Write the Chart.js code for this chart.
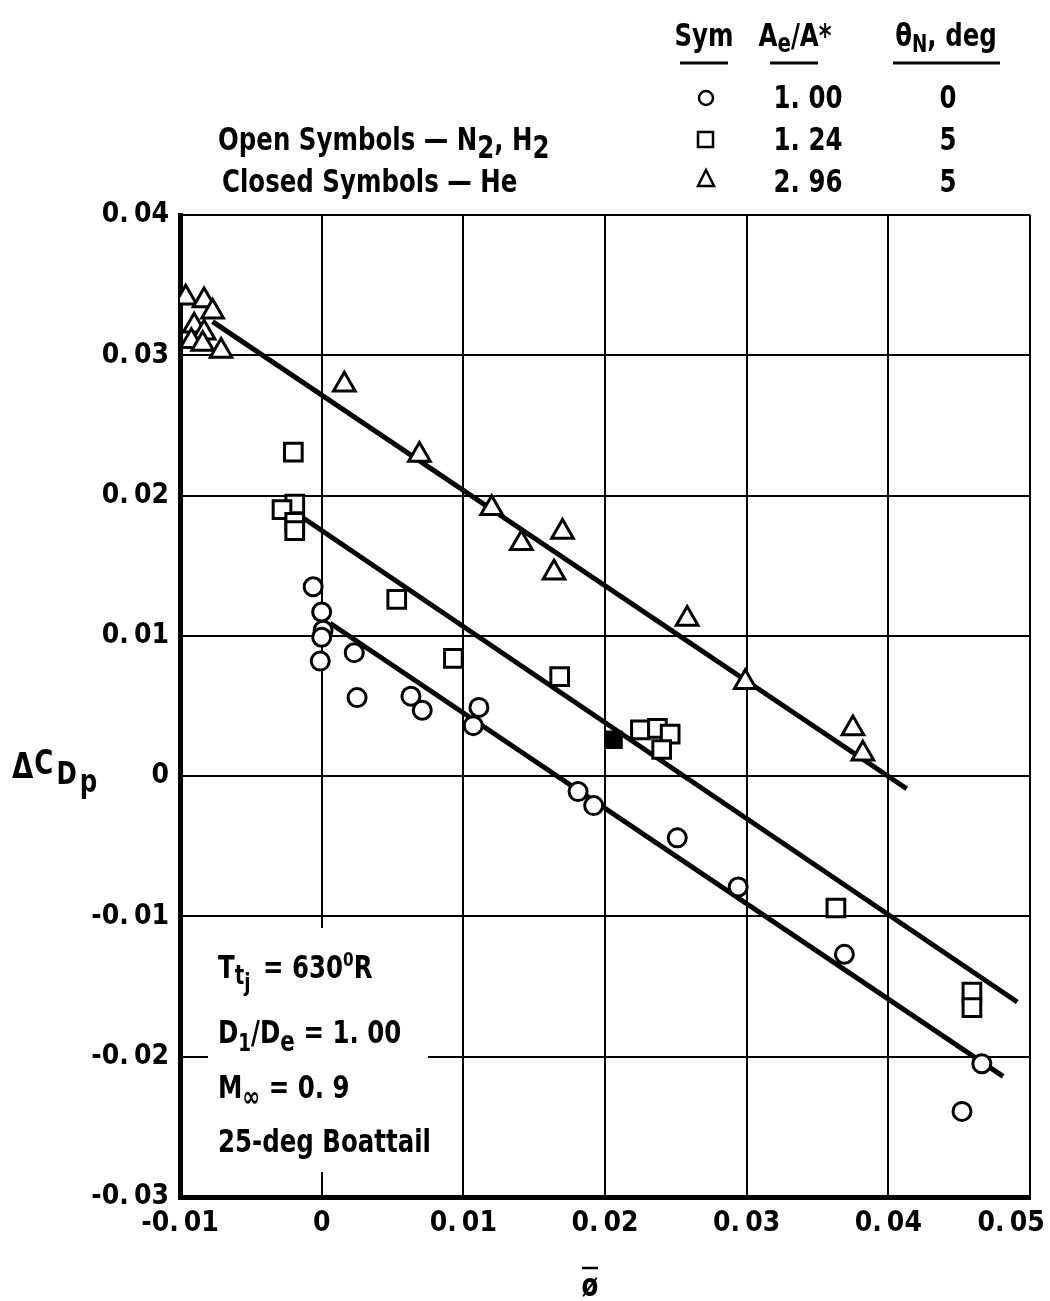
<!DOCTYPE html>
<html>
<head>
<meta charset="utf-8">
<script src="https://cdn.jsdelivr.net/npm/chart.js@4.4.1/dist/chart.umd.min.js"></script>
<style>
  html, body { margin: 0; padding: 0; background: #fff; }
  #wrap { width: 1050px; height: 1301px; position: relative; }
</style>
</head>
<body>
<div id="wrap"><canvas id="chart" width="1050" height="1301"></canvas></div>
<script>
// 数据 - 从图中读取
const circleX = [-0.0006, 0.0000, 0.0001, 0.0000, -0.0001, 0.0023, 0.0025, 0.0063, 0.0071, 0.0111, 0.0107, 0.0181, 0.0192, 0.0251, 0.0294, 0.0369, 0.0466, 0.0452];
const circleY = [0.0135, 0.0117, 0.0104, 0.0099, 0.0082, 0.0088, 0.0056, 0.0057, 0.0047, 0.0049, 0.0036, -0.0011, -0.0021, -0.0044, -0.0079, -0.0127, -0.0205, -0.0239];

const squareX = [-0.0020, -0.0019, -0.0028, -0.0019, -0.0019, 0.0053, 0.0093, 0.0168, 0.0225, 0.0237, 0.0246, 0.0240, 0.0363, 0.0459, 0.0459];
const squareY = [0.0231, 0.0194, 0.0190, 0.0181, 0.0175, 0.0126, 0.0084, 0.0071, 0.0033, 0.0034, 0.0030, 0.0019, -0.0094, -0.0154, -0.0165];

// 实心方块 (He)
const squareHeX = [0.0206];
const squareHeY = [0.0026];

const triangleX = [-0.0096, -0.0083, -0.0077, -0.0090, -0.0083, -0.0092, -0.0084, -0.0071, 0.0016, 0.0069, 0.0120, 0.0170, 0.0141, 0.0164, 0.0258, 0.0299, 0.0375, 0.0382];
const triangleY = [0.0341, 0.0339, 0.0331, 0.0321, 0.0316, 0.0310, 0.0308, 0.0303, 0.0279, 0.0229, 0.0191, 0.0174, 0.0166, 0.0145, 0.0112, 0.0067, 0.0034, 0.0016];

// 拟合直线端点
const triLineX = [-0.0077, 0.0413];
const triLineY = [0.0324, -0.0009];
const sqLineX = [-0.0013, 0.0491];
const sqLineY = [0.0184, -0.0161];
const cirLineX = [0.0006, 0.0481];
const cirLineY = [0.0109, -0.0214];

// 刻度
const xTicks = [-0.01, 0, 0.01, 0.02, 0.03, 0.04, 0.05];
const yTicks = [-0.03, -0.02, -0.01, 0, 0.01, 0.02, 0.03, 0.04];

// 图例表
const legendRatio = ['1. 00', '1. 24', '2. 96'];
const legendTheta = ['0', '5', '5'];

const FONT = '"DejaVu Sans Condensed", "DejaVu Sans", sans-serif';
const FS = 32;     // 自绘文字字号
const SX = 0.85;   // 自绘文字横向压缩

function toPoints(xs, ys) {
    return xs.map((x, i) => ({ x: x, y: ys[i] }));
}

function fmtTick(v) {
    const r = Math.round(v * 100);
    if (r === 0) return '0';
    return (r < 0 ? '-' : '') + '0.\u2009' + '0' + Math.abs(r);
}

const markerBase = {
    showLine: false,
    borderColor: '#000',
    backgroundColor: '#fff',
    borderWidth: 3
};

function lineSet(xs, ys) {
    return {
        type: 'line',
        data: toPoints(xs, ys),
        showLine: true,
        borderColor: '#000',
        borderWidth: 5,
        pointRadius: 0,
        fill: false,
        order: 2
    };
}

// 画带下标的文字 (横向压缩)
function drawRuns(ctx, x, y, runs) {
    runs.forEach(r => {
        ctx.font = 'bold ' + (r.size || FS) + 'px ' + FONT;
        ctx.save();
        ctx.translate(x, y + (r.dy || 0));
        ctx.scale(SX, 1);
        ctx.fillText(r.t, 0, 0);
        ctx.restore();
        x += ctx.measureText(r.t).width * SX + (r.gap || 0);
    });
    return x;
}

function runsWidth(ctx, runs) {
    let w = 0;
    runs.forEach(r => {
        ctx.font = 'bold ' + (r.size || FS) + 'px ' + FONT;
        w += ctx.measureText(r.t).width * SX + (r.gap || 0);
    });
    return w;
}

function drawCentered(ctx, cx, y, runs) {
    drawRuns(ctx, cx - runsWidth(ctx, runs) / 2, y, runs);
}

const decorPlugin = {
    id: 'decor',
    beforeDatasetsDraw(chart) {
        // 注释框遮住网格线
        const ctx = chart.ctx;
        ctx.save();
        ctx.fillStyle = '#fff';
        ctx.fillRect(208, 928, 220, 244);
        ctx.restore();
    },
    afterDraw(chart) {
        const ctx = chart.ctx;
        ctx.save();
        ctx.fillStyle = '#000';
        ctx.strokeStyle = '#000';
        ctx.textBaseline = 'alphabetic';
        ctx.textAlign = 'left';

        // 左上说明
        drawRuns(ctx, 218, 150, [
            { t: 'Open Symbols \u2014 N' }, { t: '2', dy: 8 }, { t: ', H' }, { t: '2', dy: 8 }
        ]);
        drawRuns(ctx, 222, 192, [{ t: 'Closed Symbols \u2014 He' }]);

        // 图例表头
        const heads = [
            { cx: 704, runs: [{ t: 'Sym' }], ul: [680, 728] },
            { cx: 795, runs: [{ t: 'A' }, { t: 'e', size: 26, dy: 6 }, { t: '/A*' }], ul: [770, 818] },
            { cx: 946, runs: [{ t: '\u03b8' }, { t: 'N', size: 24, dy: 6 }, { t: ', deg' }], ul: [893, 1000] }
        ];
        heads.forEach(h => {
            drawCentered(ctx, h.cx, 46, h.runs);
            ctx.lineWidth = 3;
            ctx.beginPath();
            ctx.moveTo(h.ul[0], 63);
            ctx.lineTo(h.ul[1], 63);
            ctx.stroke();
        });

        // 图例行
        const rowY = [108, 150, 192];
        ctx.lineWidth = 2.5;
        // 圆
        ctx.beginPath();
        ctx.arc(706, rowY[0] - 10, 7, 0, Math.PI * 2);
        ctx.stroke();
        // 方
        ctx.strokeRect(698, rowY[1] - 18, 15, 15);
        // 三角
        ctx.beginPath();
        ctx.moveTo(706, rowY[2] - 22);
        ctx.lineTo(714, rowY[2] - 6);
        ctx.lineTo(698, rowY[2] - 6);
        ctx.closePath();
        ctx.stroke();

        legendRatio.forEach((t, i) => drawCentered(ctx, 808, rowY[i], [{ t: t }]));
        legendTheta.forEach((t, i) => drawCentered(ctx, 948, rowY[i], [{ t: t }]));

        // 注释框文字
        drawRuns(ctx, 218, 978, [
            { t: 'T' }, { t: 't', size: 26, dy: 6 }, { t: 'j', size: 24, dy: 13, gap: 4 },
            { t: ' = 630' }, { t: '0', size: 20, dy: -12 }, { t: 'R' }
        ]);
        drawRuns(ctx, 218, 1043, [
            { t: 'D' }, { t: '1', size: 24, dy: 8 }, { t: '/D' }, { t: 'e', size: 28, dy: 8 }, { t: ' = 1. 00' }
        ]);
        drawRuns(ctx, 218, 1098, [
            { t: 'M' }, { t: '\u221e', size: 28, dy: 8 }, { t: ' = 0. 9' }
        ]);
        drawRuns(ctx, 218, 1152, [{ t: '25-deg Boattail' }]);

        // y 轴标题
        drawRuns(ctx, 12, 778, [
            { t: '\u0394', size: 36, gap: 1 }, { t: 'C', size: 34, dy: -4, gap: 3 }, { t: 'D', size: 32, dy: 6, gap: 3 }, { t: 'p', size: 32, dy: 14 }
        ]);

        // x 轴标题
        drawCentered(ctx, 590, 1296, [{ t: '\u00f8' }]);
        ctx.lineWidth = 2.5;
        ctx.beginPath();
        ctx.moveTo(582, 1268);
        ctx.lineTo(598, 1268);
        ctx.stroke();

        ctx.restore();
    }
};

const canvas = document.getElementById('chart');

window.scatterChart = new Chart(canvas, {
    type: 'scatter',
    data: {
        datasets: [
            { ...markerBase, data: toPoints(circleX, circleY), pointStyle: 'circle', pointRadius: 9, order: 1 },
            { ...markerBase, data: toPoints(squareX, squareY), pointStyle: 'rect', pointRadius: 12.5, order: 1 },
            { ...markerBase, data: toPoints(squareHeX, squareHeY), pointStyle: 'rect', pointRadius: 11, backgroundColor: '#000', order: 1 },
            { ...markerBase, data: toPoints(triangleX, triangleY), pointStyle: 'triangle', pointRadius: 12.5, order: 1 },
            lineSet(triLineX, triLineY),
            lineSet(sqLineX, sqLineY),
            lineSet(cirLineX, cirLineY)
        ]
    },
    options: {
        responsive: false,
        animation: false,
        events: [],
        layout: { padding: { left: 0, top: 215, right: 20, bottom: 0 } },
        plugins: {
            legend: { display: false },
            tooltip: { enabled: false },
            title: { display: false }
        },
        scales: {
            x: {
                type: 'linear',
                min: -0.01,
                max: 0.05,
                afterBuildTicks: axis => { axis.ticks = xTicks.map(v => ({ value: v })); },
                afterFit: axis => {
                    axis.height = 104;
                    axis.paddingLeft = 0;
                    axis.paddingRight = 0;
                },
                ticks: {
                    color: '#000',
                    padding: 10,
                    maxRotation: 0,
                    font: { family: FONT, size: 28, weight: 'bold' },
                    // 最后一个标签往左挪，避免被裁掉
                    callback: v => Math.abs(v - 0.05) < 1e-9 ? fmtTick(v) + '\u2002\u2002\u2002' : fmtTick(v)
                },
                grid: { color: '#000', lineWidth: 2, drawTicks: false },
                border: { color: '#000', width: 5 }
            },
            y: {
                type: 'linear',
                min: -0.03,
                max: 0.04,
                afterBuildTicks: axis => { axis.ticks = yTicks.map(v => ({ value: v })); },
                afterFit: axis => {
                    axis.width = 180;
                    axis.paddingTop = 0;
                    axis.paddingBottom = 0;
                },
                ticks: {
                    color: '#000',
                    padding: 11,
                    font: { family: FONT, size: 28, weight: 'bold' },
                    callback: v => fmtTick(v)
                },
                grid: { color: '#000', lineWidth: 2, drawTicks: false },
                border: { color: '#000', width: 5 }
            }
        }
    },
    plugins: [decorPlugin]
});
</script>
</body>
</html>
